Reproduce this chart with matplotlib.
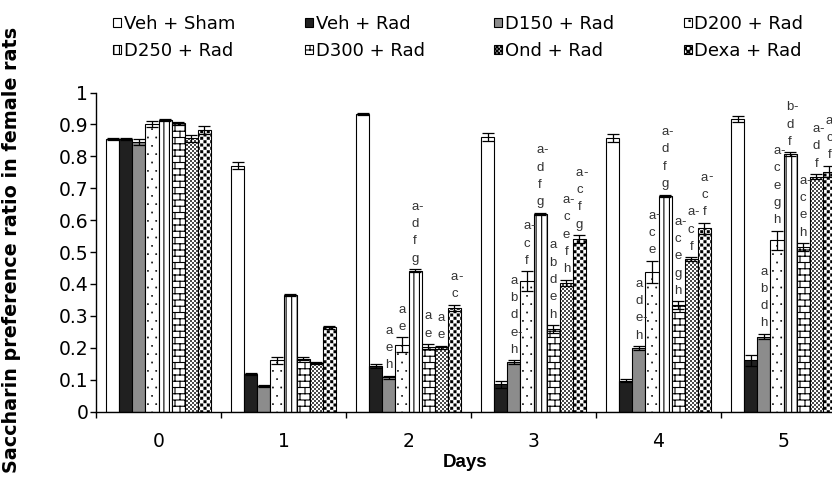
import numpy as np
import matplotlib
matplotlib.use("Agg")
import matplotlib.pyplot as plt
import matplotlib.hatch as mhatch
from matplotlib.path import Path

# ---------------- data ----------------
days = [0, 1, 2, 3, 4, 5]
groups = ["Veh + Sham", "Veh + Rad", "D150 + Rad", "D200 + Rad",
          "D250 + Rad", "D300 + Rad", "Ond + Rad", "Dexa + Rad"]

veh_sham = [0.855, 0.771, 0.932, 0.860, 0.858, 0.918]
veh_rad = [0.853, 0.118, 0.142, 0.085, 0.097, 0.160]
d150 = [0.845, 0.080, 0.107, 0.155, 0.199, 0.235]
d200 = [0.902, 0.160, 0.210, 0.409, 0.438, 0.537]
d250 = [0.914, 0.366, 0.442, 0.620, 0.676, 0.807]
d300 = [0.903, 0.165, 0.203, 0.258, 0.333, 0.516]
ond = [0.856, 0.153, 0.201, 0.403, 0.478, 0.736]
dexa = [0.883, 0.264, 0.324, 0.541, 0.574, 0.752]

err_veh_sham = [0.003, 0.012, 0.004, 0.012, 0.013, 0.009]
err_veh_rad = [0.003, 0.003, 0.006, 0.012, 0.004, 0.018]
err_d150 = [0.010, 0.003, 0.005, 0.005, 0.006, 0.008]
err_d200 = [0.010, 0.012, 0.022, 0.030, 0.035, 0.030]
err_d250 = [0.003, 0.003, 0.004, 0.003, 0.004, 0.005]
err_d300 = [0.005, 0.005, 0.008, 0.013, 0.012, 0.012]
err_ond = [0.010, 0.003, 0.005, 0.010, 0.005, 0.008]
err_dexa = [0.013, 0.004, 0.010, 0.012, 0.018, 0.018]

# significance letters (read top to bottom)
sig_d150 = ["", "", "a e h", "a b d e- h", "a d e- h", "a b d h"]
sig_d200 = ["", "", "a e", "a- c f", "a- c e", "a- c e g h"]
sig_d250 = ["", "", "a- d f g", "a- d f g", "a- d f g", "b- d f"]
sig_d300 = ["", "", "a e", "a b d e h", "a- c e g h", "a- c e h"]
sig_ond = ["", "", "a e", "a- c e f h", "a- c f", "a- d f"]
sig_dexa = ["", "", "a- c", "a- c f g", "a- c f", "a- c f"]

values = [veh_sham, veh_rad, d150, d200, d250, d300, ond, dexa]
errors = [err_veh_sham, err_veh_rad, err_d150, err_d200, err_d250,
          err_d300, err_ond, err_dexa]
sigs = [None, None, sig_d150, sig_d200, sig_d250, sig_d300, sig_ond, sig_dexa]


# ---------------- custom hatch patterns ----------------
class _PolyHatch(mhatch.HatchPatternBase):
    char = "?"

    def __init__(self, hatch, density):
        self.polys = self.make() if (hatch and self.char in hatch) else []
        self.num_vertices = sum(len(v) for v, c in self.polys)

    def make(self):
        return []

    def set_vertices_and_codes(self, vertices, codes):
        i = 0
        for v, c in self.polys:
            n = len(v)
            vertices[i:i + n] = v
            codes[i:i + n] = c
            i += n


_SQ = np.array([Path.MOVETO, Path.LINETO, Path.LINETO, Path.LINETO,
                Path.CLOSEPOLY], dtype=Path.code_type)


def _square(x0, y0, x1, y1):
    return np.array([[x0, y0], [x1, y0], [x1, y1], [x0, y1], [x0, y0]])


class BrickHatch(_PolyHatch):
    char = "o"

    def make(self):
        rows, cols = 16, 10
        seg = np.array([Path.MOVETO, Path.LINETO], dtype=Path.code_type)
        out = []
        for r in range(rows + 1):
            y = r / rows
            out.append((np.array([[0.0, y], [1.0, y]]), seg))
        for r in range(rows):
            y0, y1 = r / rows, (r + 1) / rows
            off = 0.0 if r % 2 == 0 else 0.5 / cols
            n = cols + 1 if off == 0 else cols
            for k in range(n):
                x = off + k / cols
                out.append((np.array([[x, y0], [x, y1]]), seg))
        return out


class DotHatch(_PolyHatch):
    char = "."

    def make(self):
        rows = 12
        s = 1.0 / rows
        h = 0.006
        out = []
        for r in range(rows):
            off = 0.25 * s if r % 2 == 0 else 0.75 * s
            yc = (r + 0.5) * s
            for k in range(rows):
                xc = off + k * s
                out.append((_square(xc - h, yc - h, xc + h, yc + h), _SQ))
        return out


class CheckerHatch(_PolyHatch):
    char = "*"
    n = 30
    inset = 0.08

    def make(self):
        n = self.n
        s = 1.0 / n
        d = s * self.inset
        out = []
        for i in range(n):
            for j in range(n):
                if (i + j) % 2 == 0:
                    out.append((_square(i * s + d, j * s + d,
                                        (i + 1) * s - d, (j + 1) * s - d),
                                _SQ))
        return out


class FineChecker(CheckerHatch):
    char = "O"
    n = 50
    inset = 0.12


mhatch._hatch_types = [mhatch.HorizontalHatch, mhatch.VerticalHatch,
                       mhatch.NorthEastHatch, mhatch.SouthEastHatch,
                       DotHatch, BrickHatch, FineChecker, CheckerHatch]

plt.rcParams["hatch.linewidth"] = 0.8

styles = [
    dict(facecolor="white", hatch=None, hlw=0.8),
    dict(facecolor="#202020", hatch=None, hlw=0.8),
    dict(facecolor="#8c8c8c", hatch=None, hlw=0.8),
    dict(facecolor="white", hatch=".", hlw=0.3),
    dict(facecolor="white", hatch="|||", hlw=0.8),
    dict(facecolor="white", hatch="o", hlw=0.8),
    dict(facecolor="white", hatch="O", hlw=0.15),
    dict(facecolor="white", hatch="*", hlw=0.15),
]

# ---------------- figure ----------------
W, H = 832, 484
fig = plt.figure(figsize=(W / 100, H / 100), dpi=100)
y0px, y1px = 411.5, 92.5
ax = fig.add_axes([96 / W, 1 - y0px / H, 750 / W, (y0px - y1px) / H])

bw = 0.84 / 8
x = np.arange(len(days))
containers = []
for i, (vals, errs, st) in enumerate(zip(values, errors, styles)):
    xs = x + (i - 3.5) * bw
    bc = ax.bar(xs, vals, width=bw, facecolor=st["facecolor"],
                edgecolor="black", linewidth=0.8, hatch=st["hatch"],
                label=groups[i], zorder=2)
    for p in bc:
        if hasattr(p, "set_hatch_linewidth"):
            p.set_hatch_linewidth(st["hlw"])
        else:
            p._hatch_linewidth = st["hlw"]
    containers.append(bc)
    ax.errorbar(xs, vals, yerr=errs, fmt="none", ecolor="black",
                elinewidth=0.9, capsize=4.2, capthick=0.9, zorder=3)

# significance letters
step_pt = 17.3 * 0.72
base_pt = 10.5 * 0.72
for i, sg in enumerate(sigs):
    if sg is None:
        continue
    for d in range(len(days)):
        if not sg[d]:
            continue
        letters = sg[d].split()
        xc = d + (i - 3.5) * bw
        ytop = values[i][d] + errors[i][d]
        nl = len(letters)
        for k, L in enumerate(letters):
            off = base_pt + (nl - 1 - k) * step_pt
            ch = L.rstrip("-")
            ax.annotate(ch, xy=(xc, ytop), xytext=(0, off),
                        textcoords="offset points", ha="center", va="center",
                        fontsize=9.5, family="Liberation Sans",
                        color="#333333", annotation_clip=False, zorder=4)
            if L.endswith("-"):
                ax.annotate("-", xy=(xc, ytop), xytext=(2.5, off),
                            textcoords="offset points", ha="left",
                            va="center", fontsize=9.5,
                            family="Liberation Sans", color="#333333",
                            annotation_clip=False, zorder=4)

# axes styling
ax.set_xlim(-0.5, 5.5)
ax.set_ylim(0, 1)
for s in ["top", "right"]:
    ax.spines[s].set_visible(False)
for s in ["left", "bottom"]:
    ax.spines[s].set_linewidth(1.0)

ax.set_xticks(np.arange(-0.5, 6.0, 1.0))
ax.set_xticklabels([])
ax.set_xticks(x, minor=True)
ax.set_xticklabels([str(d) for d in days], minor=True)
ax.tick_params(axis="x", which="major", length=4.5, width=1.0,
               direction="out")
ax.tick_params(axis="x", which="minor", length=0, pad=14.6, labelsize=13.5)

yt = np.round(np.arange(0, 1.01, 0.1), 1)
ax.set_yticks(yt)
ax.set_yticklabels(["0" if v == 0 else ("1" if v == 1 else f"{v:.1f}")
                    for v in yt])
ax.tick_params(axis="y", length=4.3, width=1.0, pad=1.2, labelsize=13.5)
for lab in ax.get_xticklabels(minor=True) + ax.get_yticklabels():
    lab.set_family("DejaVu Sans")

fig.text(465 / W, 1 - 467 / H, "Days", ha="center", va="baseline",
         fontsize=13.5, fontweight="bold", family="Liberation Sans")
fig.text(12 / W, 1 - 250 / H, "Saccharin preference ratio in female rats",
         rotation=90, ha="center", va="center", fontsize=13.8,
         fontweight="bold", family="DejaVu Sans")

order = [0, 4, 1, 5, 2, 6, 3, 7]
fig.legend([containers[i] for i in order], [groups[i] for i in order],
           ncol=4, loc="upper left", bbox_to_anchor=(113 / W, 1 - 15 / H),
           frameon=False, prop=dict(family="DejaVu Sans", size=13),
           handlelength=0.45, handleheight=0.45, handletextpad=0.15,
           columnspacing=3.85, labelspacing=0.5, borderpad=0,
           borderaxespad=0)

fig.savefig("out.png", dpi=100)
